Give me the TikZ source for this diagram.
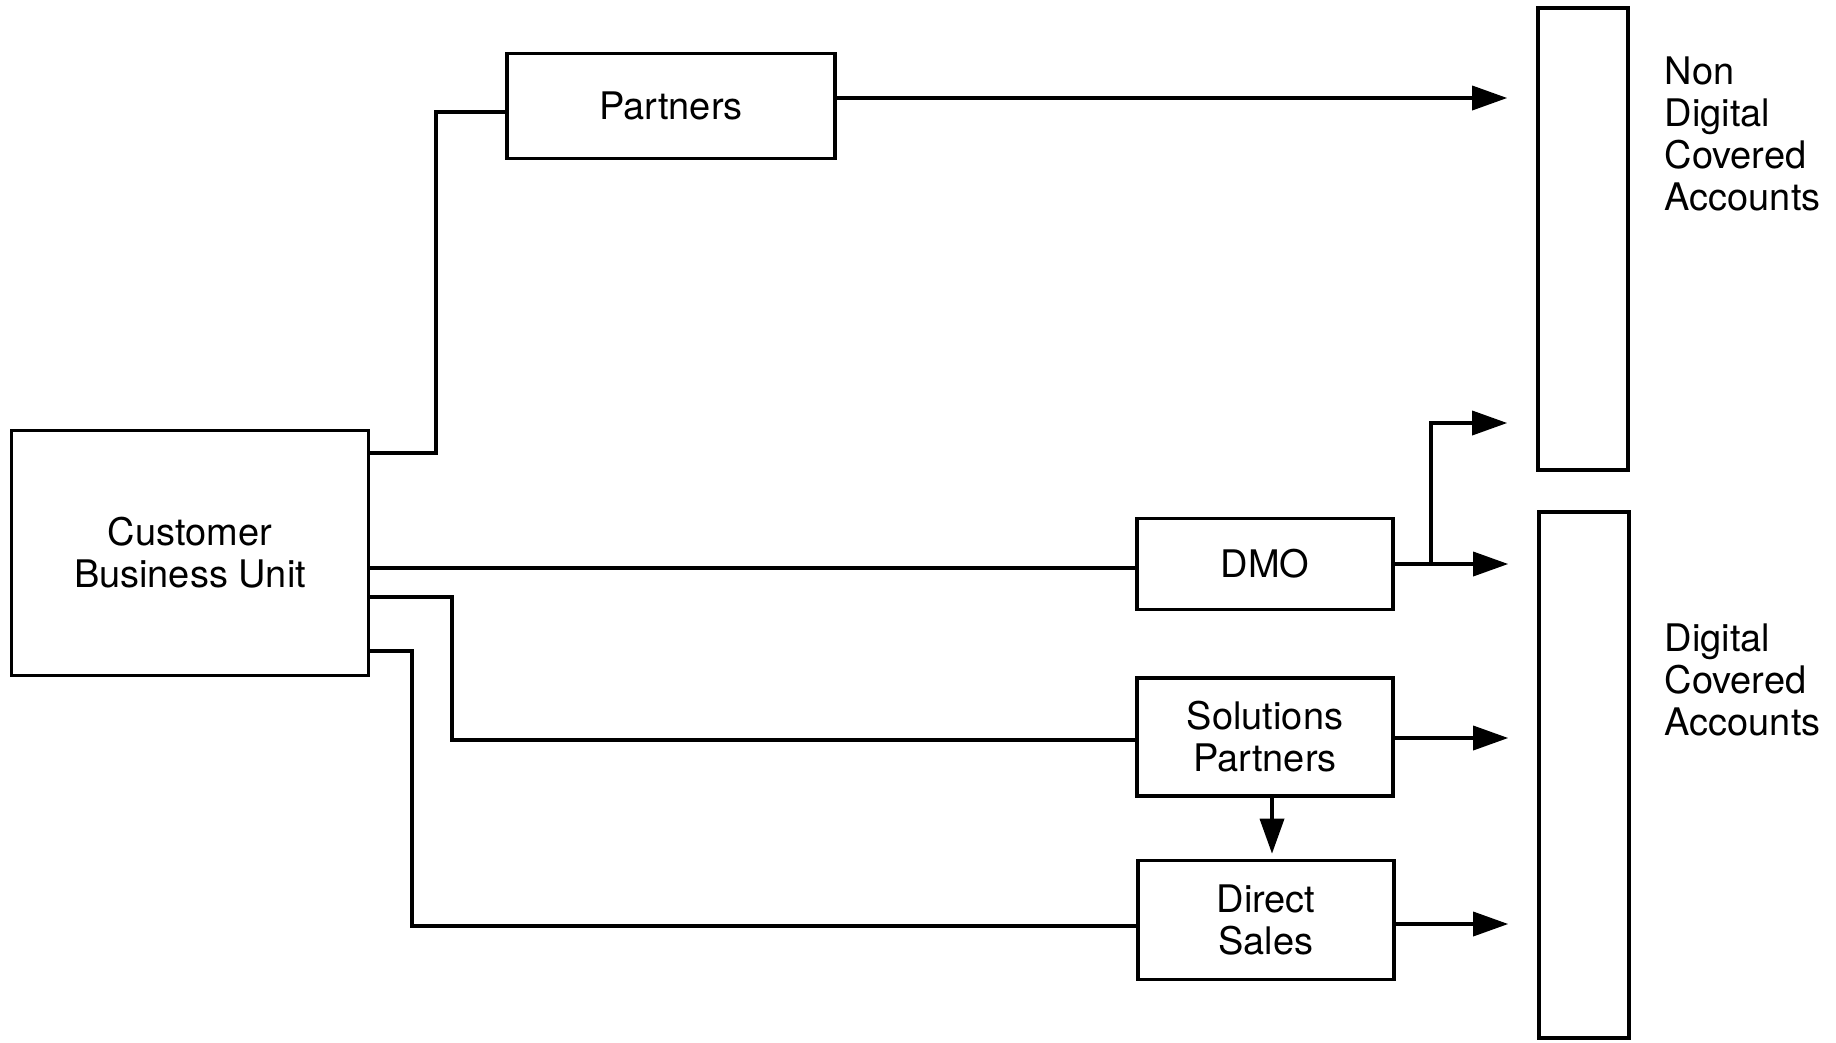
\documentclass[tikz,border=0pt]{standalone}
\usepackage{fontspec}
\setmainfont{TeX Gyre Heros}
\usetikzlibrary{arrows.meta}

\begin{document}
\begin{tikzpicture}[
      x=0.01cm, y=-0.01cm,
      line width=1pt,
      every node/.style={font=\fontsize{10.8}{11.9}\selectfont},
      unit/.style={
        draw,
        align=center,
        inner sep=0pt,
        minimum width=2.56cm,
        minimum height=1.18cm
      },
      bar/.style={
        draw,
        inner sep=0pt,
        minimum width=0.9cm
      },
      legend/.style={
        align=left,
        anchor=west,
        inner sep=0pt
      },
      feed/.style={
        -{Triangle[length=3.5mm,width=2.4mm]},
        shorten >=2.9mm
      }
    ]
      \useasboundingbox (0,0) rectangle (1836,1042);

      \node (cbu) at (190,553) [unit,minimum width=3.57cm,minimum height=2.45cm]{Customer\\Business Unit};
      \node (partners) at (671,106) [unit,minimum width=3.28cm,minimum height=1.05cm]{Partners};
      \node (dmo) at (1265,564) [unit,minimum height=0.91cm]{DMO};
      \node (sp) at (1265,737) [unit]{Solutions\\Partners};
      \node (ds) at (1266,920) [unit,minimum height=1.19cm]{Direct\\Sales};

      \node (nondig) at (1583,239) [bar,minimum height=4.62cm]{};
      \node (digital) at (1584,775) [bar,minimum height=5.26cm]{};
      \node (nondigtxt) at (1663,134) [legend]{Non\\Digital\\Covered\\Accounts};
      \node (digitaltxt) at (1663,680) [legend]{Digital\\Covered\\Accounts};

      \coordinate (split) at (1431,564);

      \draw (cbu.east |- 0,453) -| (436,112) -- (partners.west |- 0,112);
      \draw (cbu.east |- 0,568) -- (dmo.west |- 0,568);
      \draw (cbu.east |- 0,597) -| (452,740) -- (sp.west |- 0,740);
      \draw (cbu.east |- 0,651) -| (412,926) -- (ds.west |- 0,926);

      \draw[feed] (partners.east |- 0,98) -- (nondig.west |- 0,98);
      \draw[feed] (dmo.east) -- (digital.west |- dmo.east);
      \draw[feed] (split) |- (nondig.west |- 0,423);
      \draw[feed] (sp.east |- 0,738) -- (digital.west |- 0,738);
      \draw[feed,shorten >=0.5mm] (sp.south -| 1272,0) -- (ds.north -| 1272,0);
      \draw[feed] (ds.east |- 0,924) -- (digital.west |- 0,924);

    \end{tikzpicture}
\end{document}
